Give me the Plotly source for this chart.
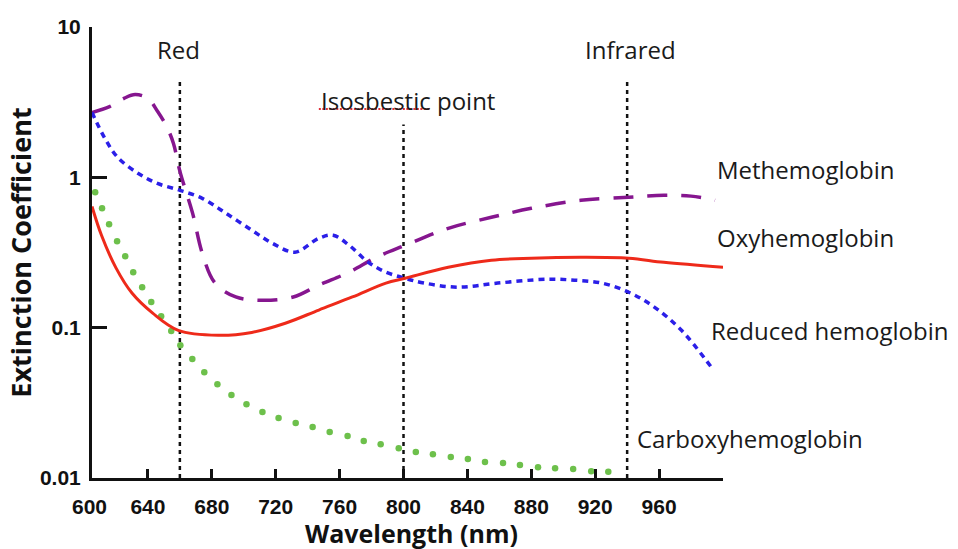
import math
import plotly.graph_objects as go

# Wavelength samples (nm) and extinction coefficients for each species
oxy_wl = [605, 611, 620, 630, 643, 659, 684, 705, 726, 747, 768, 789, 801, 828, 855, 880, 911, 941, 963, 1000]
oxy_val = [0.64, 0.41, 0.25, 0.17, 0.125, 0.096, 0.089, 0.093, 0.107, 0.131, 0.160, 0.198, 0.213,
           0.252, 0.281, 0.290, 0.294, 0.290, 0.272, 0.252]

red_wl = [605, 613, 621, 634, 646, 660, 674, 688, 705, 718, 732, 747, 756, 766, 778, 789, 801, 813,
          834, 859, 890, 907, 924, 941, 957, 974, 993]
red_val = [2.70, 1.82, 1.36, 1.06, 0.91, 0.82, 0.725, 0.585, 0.445, 0.364, 0.318, 0.393, 0.412, 0.353,
           0.272, 0.234, 0.213, 0.198, 0.186, 0.198, 0.210, 0.207, 0.198, 0.172, 0.137, 0.096, 0.054]

met_wl = [605, 616, 625, 632, 640, 646, 652, 656, 660, 668, 674, 682, 695, 712, 731, 747, 766, 783,
          801, 828, 855, 880, 911, 941, 963, 980, 995]
met_val = [2.70, 2.95, 3.35, 3.55, 3.35, 2.75, 2.15, 1.68, 1.10, 0.576, 0.313, 0.198, 0.160, 0.152,
           0.160, 0.192, 0.234, 0.294, 0.353, 0.458, 0.542, 0.622, 0.703, 0.736, 0.759, 0.750, 0.703]

# Carboxyhemoglobin is plotted as individual sample dots
carb_wl = [607, 611.3, 615.7, 620.7, 625.8, 630.8, 636.4, 642.1, 648.3, 654.6, 660.3, 667.8, 675.3,
           683.5, 692.3, 701.7, 711.7, 721.8, 732.5, 743.1, 753.8, 765, 775.1, 785.7, 797, 807.7,
           818.4, 829.6, 840.3, 851, 862.3, 872.9, 884.2, 894.9, 906.2, 917.5, 928.2]
carb_val = [0.795, 0.622, 0.488, 0.376, 0.299, 0.234, 0.186, 0.148, 0.119, 0.095, 0.0765, 0.0618,
            0.0506, 0.0421, 0.0356, 0.0310, 0.0275, 0.0251, 0.0232, 0.0218, 0.0202, 0.0190, 0.0176,
            0.0168, 0.0158, 0.0149, 0.0144, 0.0138, 0.0134, 0.0128, 0.0126, 0.0122, 0.0118, 0.0116,
            0.0115, 0.0111, 0.0110]

# Marker wavelengths (nm) and how high each guide reaches
guide_wl = [660, 800, 940]
guide_top = [4.5, 2.25, 4.4]

# Axis setup
X_MIN, X_MAX = 605, 1000
x_ticks = [640, 680, 720, 760, 800, 840, 880, 920, 960, 1000]
x_ticktext = ["640", "680", "720", "760", "800", "840", "880", "920", "960", ""]
y_ticks = [0.01, 0.1, 1, 10]
y_ticktext = ["0.01", "0.1", "1", "10"]

INK = "#111111"
tick_font = dict(family="Liberation Sans", size=21, color=INK, weight="bold")

fig = go.Figure()

# Dotted guides at the red, isosbestic and infrared wavelengths
for wl, top in zip(guide_wl, guide_top):
    fig.add_trace(go.Scatter(x=[wl, wl], y=[0.01, top], mode="lines",
                             line=dict(color=INK, width=2.5, dash="4px,4px"),
                             hoverinfo="skip", showlegend=False))

fig.add_trace(go.Scatter(x=carb_wl, y=carb_val, mode="markers", name="Carboxyhemoglobin",
                         marker=dict(color="#6DC04B", size=6.5, line=dict(width=0)),
                         cliponaxis=False, showlegend=False))
fig.add_trace(go.Scatter(x=met_wl, y=met_val, mode="lines", name="Methemoglobin",
                         line=dict(color="#86168F", width=3.5, dash="20px,14px", shape="spline"),
                         showlegend=False))
fig.add_trace(go.Scatter(x=red_wl, y=red_val, mode="lines", name="Reduced hemoglobin",
                         line=dict(color="#2B1FE8", width=3.5, dash="6px,5px", shape="spline"),
                         showlegend=False))
fig.add_trace(go.Scatter(x=oxy_wl, y=oxy_val, mode="lines", name="Oxyhemoglobin",
                         line=dict(color="#EE2A1A", width=3, shape="spline"),
                         showlegend=False))

# Wavy underline beneath "Isosbestic"
fig.add_trace(go.Scatter(x=[747, 817], y=[2.85, 2.85], mode="lines",
                         line=dict(color="#E0303A", width=2, dash="2px,1.5px"),
                         hoverinfo="skip", showlegend=False))

label_font = dict(family="Open Sans", size=24, color="#1a1a1a")
labels = [
    ("Red", 659, 7.1, "center"),
    ("Infrared", 942, 7.1, "center"),
    ("Isosbestic point", 747, 3.25, "left"),
    ("Methemoglobin", 995, 1.12, "left"),
    ("Oxyhemoglobin", 995, 0.40, "left"),
    ("Reduced hemoglobin", 991, 0.096, "left"),
    ("Carboxyhemoglobin", 945, 0.0184, "left"),
]
for text, x, y, anchor in labels:
    fig.add_annotation(x=x, y=math.log10(y), text=text, showarrow=False, xanchor=anchor,
                       yanchor="middle", font=label_font)

# "600" sits at the origin corner, just left of the visible range
fig.add_annotation(x=(600 - X_MIN) / (X_MAX - X_MIN), xref="paper", y=0, yref="paper",
                   yshift=-28, xshift=5, text="<b>600</b>", showarrow=False,
                   xanchor="center", yanchor="middle",
                   font=dict(family="Liberation Sans", size=21, color=INK))

# Wavelength axis title, placed below the tick labels
fig.add_annotation(x=0.5, xref="paper", y=0, yref="paper", yshift=-55, xshift=4,
                   text="<b>Wavelength (nm)</b>", showarrow=False,
                   xanchor="center", yanchor="middle",
                   font=dict(family="Open Sans", size=25, color=INK))

fig.update_xaxes(range=[X_MIN, X_MAX], tickvals=x_ticks, ticktext=x_ticktext,
                 ticks="inside", ticklen=9, tickwidth=3, tickcolor=INK,
                 showline=True, linewidth=3, linecolor=INK, showgrid=False, zeroline=False,
                 tickfont=tick_font, ticklabelstandoff=8, automargin=False)
fig.update_yaxes(type="log", range=[-2, 1], tickvals=y_ticks, ticktext=y_ticktext,
                 ticks="inside", ticklen=15, tickwidth=3, tickcolor=INK,
                 showline=True, linewidth=3, linecolor=INK, showgrid=False, zeroline=False,
                 tickfont=tick_font, ticklabelstandoff=4, automargin=False,
                 title=dict(text="Extinction Coefficient", standoff=1,
                            font=dict(family="Open Sans", size=27, color=INK, weight="bold")))

fig.update_layout(width=958, height=549, margin=dict(l=92, r=235, t=27, b=71),
                  plot_bgcolor="white", paper_bgcolor="white", showlegend=False)

fig.write_html("out.html")
